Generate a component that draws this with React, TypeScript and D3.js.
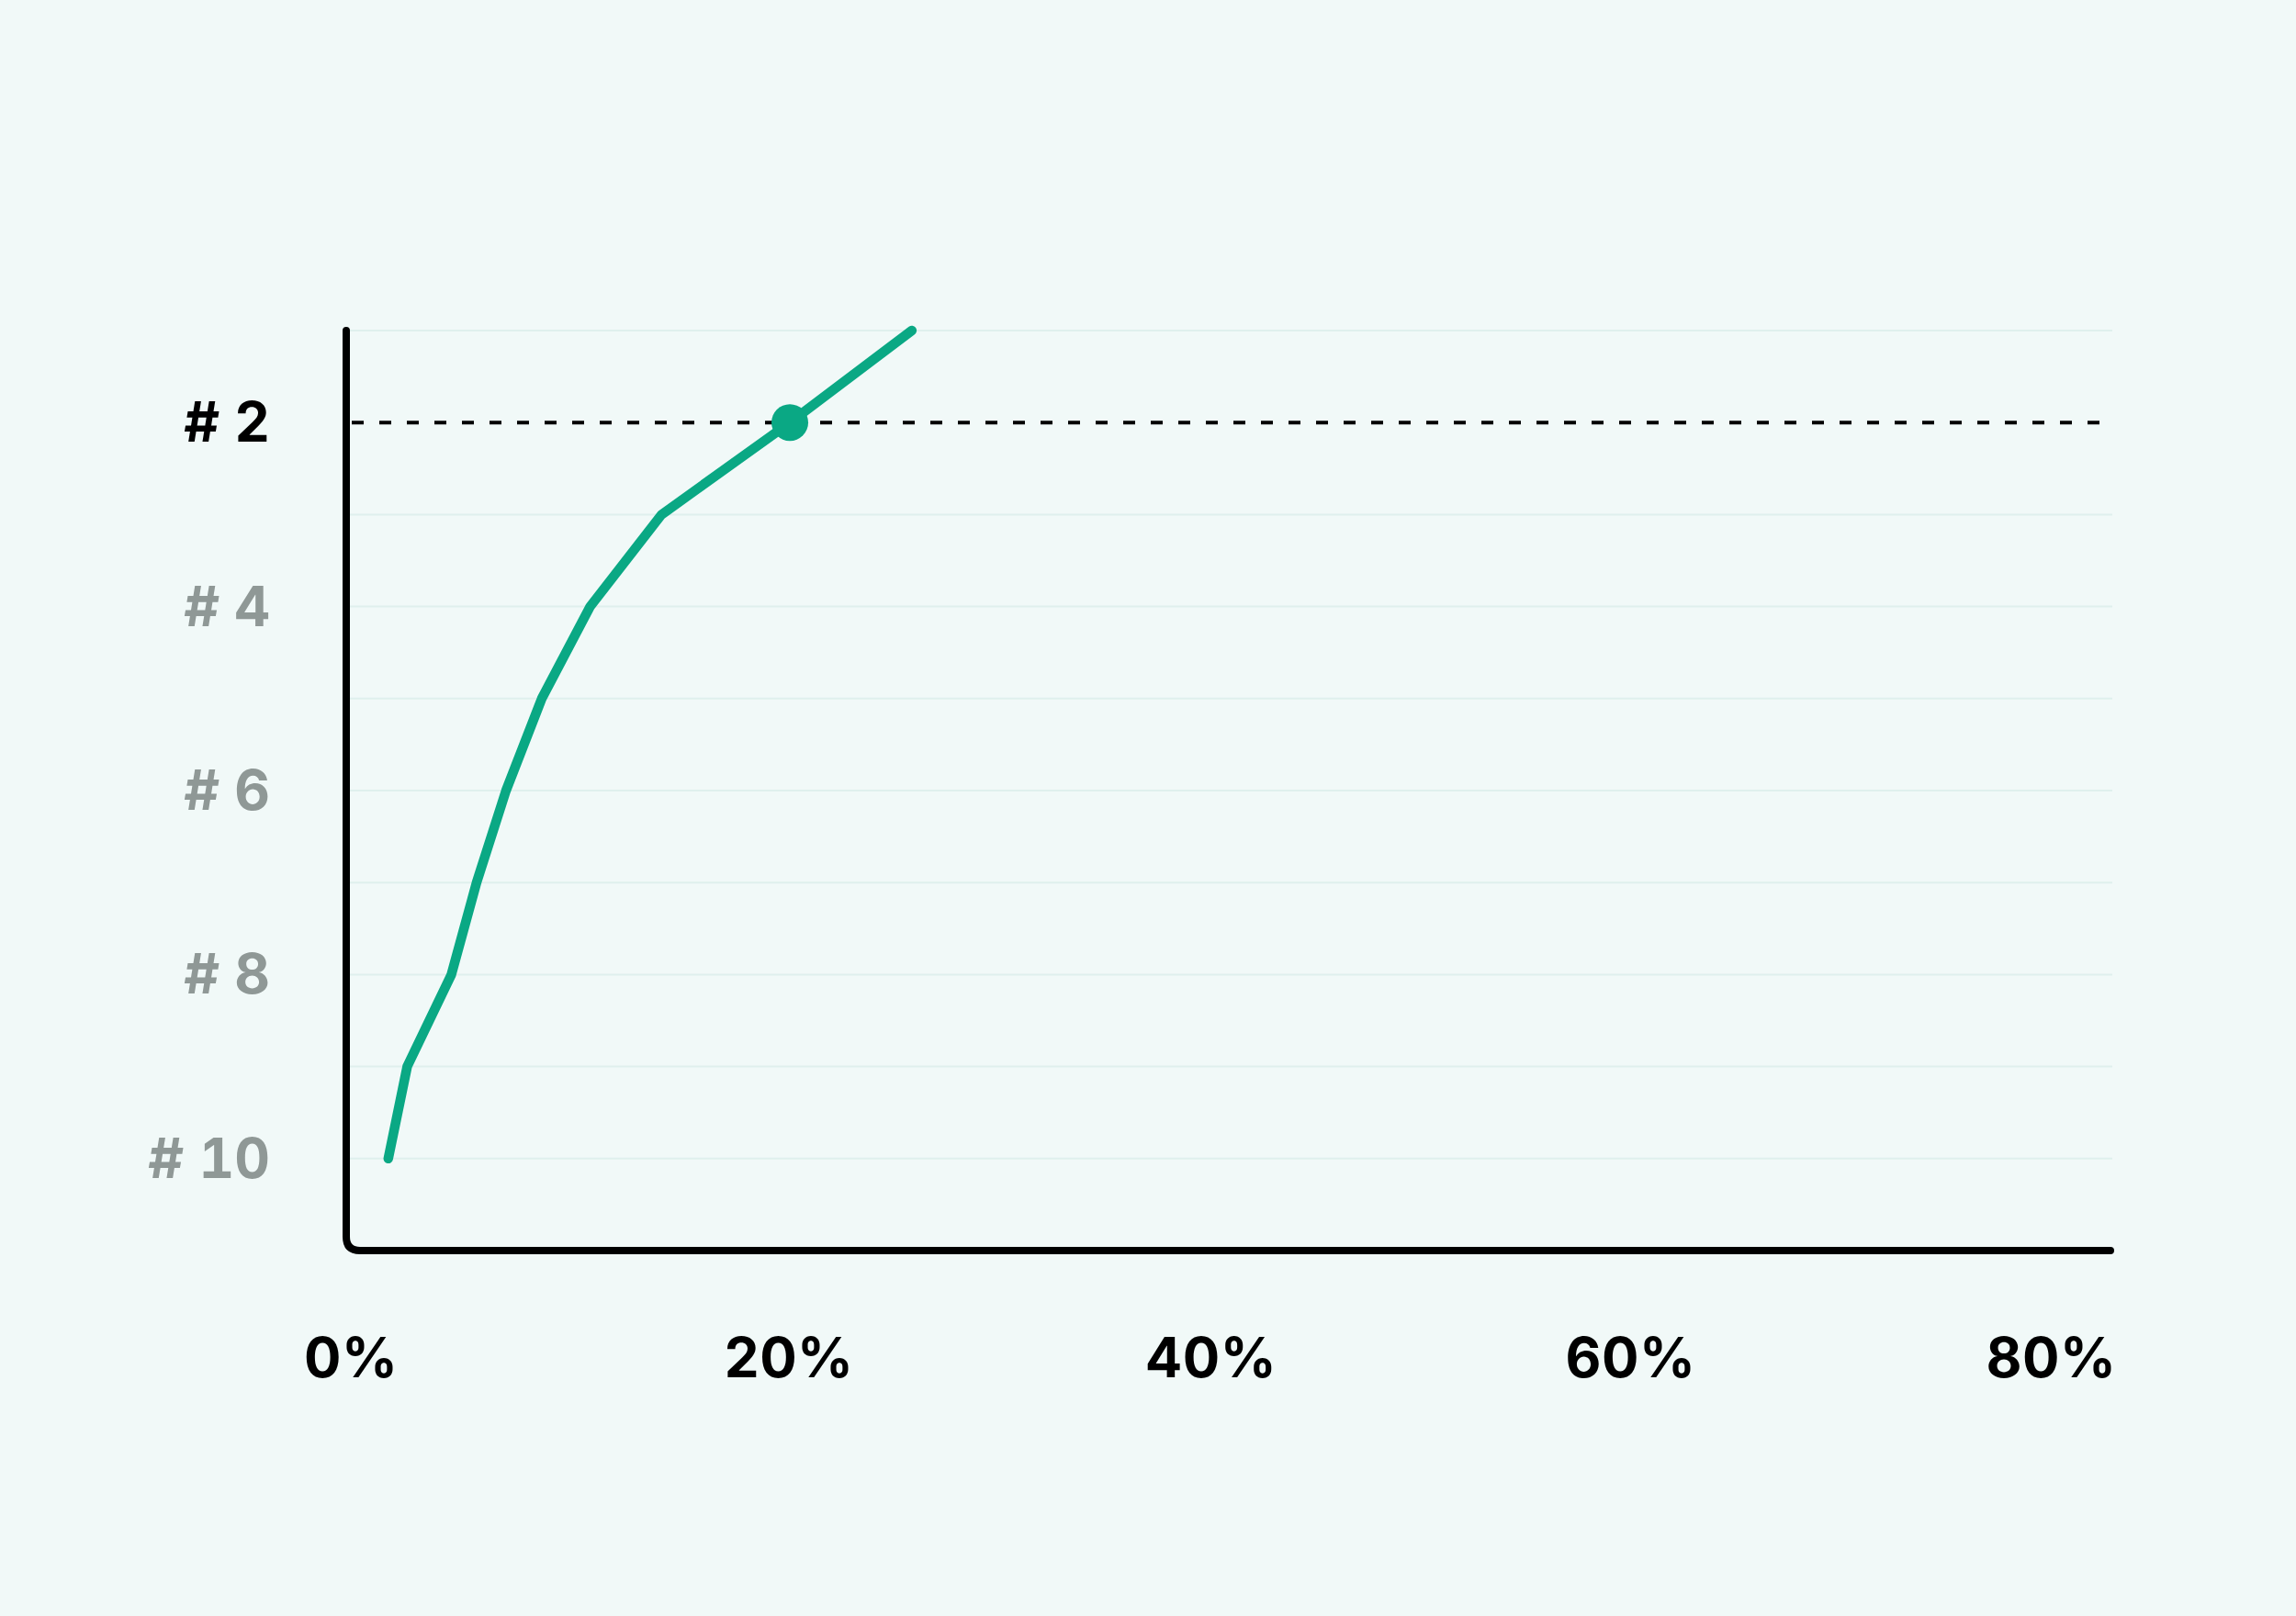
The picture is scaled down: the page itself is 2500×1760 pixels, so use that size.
import { useMemo } from 'react';
import * as d3 from 'd3';

// ranks shown on the y axis (1 = top)
const RANKS = [1, 2, 3, 4, 5, 6, 7, 8, 9, 10];
// share (%) needed to reach each rank
const SHARE = [26.9, 21.1, 15.0, 11.6, 9.3, 7.6, 6.2, 5.0, 2.9, 2.0];

const Y_TICKS = [2, 4, 6, 8, 10];
const X_TICKS = [0, 20, 40, 60, 80];
const HIGHLIGHT_RANK = 2;

const W = 2500;
const H = 1760;
const BG = '#f1f9f8';
const GREEN = '#0aa884';
const GREY = '#8f9896';
const GRID = '#dff0ed';
const FONT = 'Inter, "Noto Sans", sans-serif';

export default function App() {
  const x = useMemo(() => d3.scaleLinear().domain([0, 84]).range([377, 2300]), []);
  const y = useMemo(() => d3.scaleLinear().domain([1, 11]).range([360, 1362]), []);

  const points = RANKS.map((r, i) => ({ rank: r, share: SHARE[i] }));

  const line = d3
    .line<{ rank: number; share: number }>()
    .x(d => x(d.share))
    .y(d => y(d.rank));

  // axis frame: vertical then horizontal with a rounded corner
  const [x0, x1] = x.range();
  const [y0, y1] = y.range();
  const rad = 15;
  const frame = d3.path();
  frame.moveTo(x0, y0);
  frame.lineTo(x0, y1 - rad);
  frame.quadraticCurveTo(x0, y1, x0 + rad, y1);
  frame.lineTo(x1 - 2, y1);

  const hl = points.find(p => p.rank === HIGHLIGHT_RANK)!;

  return (
    <div style={{ position: 'absolute', left: 0, top: 0 }}>
      <svg width={W} height={H} style={{ display: 'block' }}>
        <rect width={W} height={H} fill={BG} />

        {/* row guides */}
        {RANKS.filter(r => r !== HIGHLIGHT_RANK).map(r => (
          <line key={r} x1={x0} x2={x1} y1={y(r)} y2={y(r)} stroke={GRID} strokeWidth={2} />
        ))}

        {/* highlighted rank */}
        <line
          x1={x0 + 6}
          x2={x1 + 2}
          y1={y(HIGHLIGHT_RANK)}
          y2={y(HIGHLIGHT_RANK)}
          stroke="#000"
          strokeWidth={4}
          strokeDasharray="13 17"
        />

        <path d={frame.toString()} fill="none" stroke="#000" strokeWidth={8} strokeLinecap="round" />

        <path
          d={line(points) || ''}
          fill="none"
          stroke={GREEN}
          strokeWidth={10.5}
          strokeLinecap="round"
          strokeLinejoin="round"
        />
        <circle cx={x(hl.share)} cy={y(hl.rank)} r={20} fill={GREEN} />

        {Y_TICKS.map(r => (
          <text
            key={r}
            x={294}
            y={y(r) + 21}
            textAnchor="end"
            fill={r === HIGHLIGHT_RANK ? '#000' : GREY}
            style={{ fontFamily: FONT, fontSize: 60, fontWeight: 700, fontVariantNumeric: 'tabular-nums' }}
          >
            {`# ${r}`}
          </text>
        ))}

        {X_TICKS.map(v => (
          <text
            key={v}
            x={x(v) - 46}
            y={1500}
            textAnchor="start"
            fill="#000"
            style={{ fontFamily: FONT, fontSize: 60, fontWeight: 700, letterSpacing: 0.5 }}
          >
            {`${v}%`}
          </text>
        ))}
      </svg>
    </div>
  );
}
